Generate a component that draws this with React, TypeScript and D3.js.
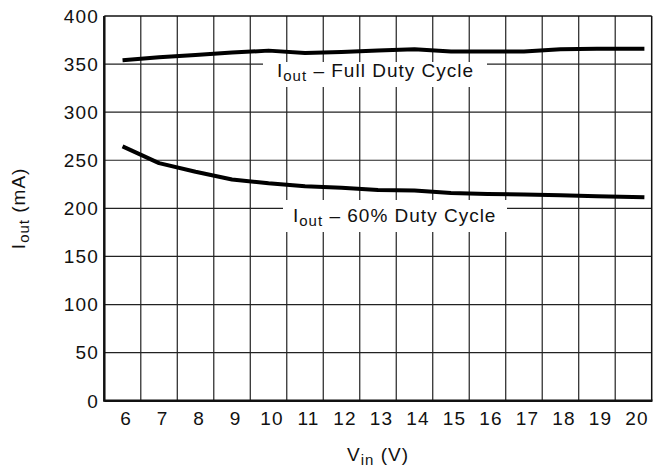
import React from "react";
import * as d3 from "d3";

const vin = [6, 7, 8, 9, 10, 11, 12, 13, 14, 15, 16, 17, 18, 19, 20.3];
const fullDuty = [354, 357, 359.5, 362, 364, 361.5, 362.5, 364, 365.5, 363, 363, 363, 365.5, 366, 366];
const duty60 = [264.5, 247, 238, 230, 226, 223, 221.5, 219, 218.5, 216, 215, 214.5, 213.5, 212.5, 211.5];
const xTicks = [6, 7, 8, 9, 10, 11, 12, 13, 14, 15, 16, 17, 18, 19, 20];
const yTicks = [0, 50, 100, 150, 200, 250, 300, 350, 400];

const W = 661, H = 468;
const M = { left: 104.3, right: 651.7, top: 16, bottom: 400.7 };
const FONT = "'Liberation Sans', Arial, Helvetica, sans-serif";

export default function App() {
  const x = d3.scaleLinear().domain([5.5, 20.5]).range([M.left, M.right]);
  const y = d3.scaleLinear().domain([0, 400]).range([M.bottom, M.top]);
  const line = d3.line<number>().x((_, i) => x(vin[i])).y((d) => y(d)).curve(d3.curveLinear);
  const vGrid = d3.range(6.5, 20.5, 1);

  const label = (
    xc: number, yb: number, rest: string, box: [number, number, number, number]
  ) => (
    <g>
      <rect x={box[0]} y={box[1]} width={box[2]} height={box[3]} fill="#fff" />
      <text x={xc} y={yb} fontSize={19} letterSpacing={1} fontFamily={FONT} fill="#111">
        I<tspan fontSize={15} dy={4}>out</tspan>
        <tspan dy={-4}>{rest}</tspan>
      </text>
    </g>
  );

  return (
    <svg width={W} height={H} style={{ position: "absolute", left: 0, top: 0, background: "#fff" }}>
      {/* grid */}
      {vGrid.map((v) => (
        <line key={"v" + v} x1={x(v)} x2={x(v)} y1={M.top} y2={M.bottom} stroke="#222" strokeWidth={1.2} />
      ))}
      {yTicks.slice(1, -1).map((t) => (
        <line key={"h" + t} x1={M.left} x2={M.right} y1={y(t)} y2={y(t)} stroke="#222" strokeWidth={1.2} />
      ))}
      {/* label boxes */}
      {label(277, 77, " – Full Duty Cycle", [263, 62, 224, 25])}
      {label(293, 222, " – 60% Duty Cycle", [283, 200, 224, 32])}
      {/* frame */}
      <line x1={M.left} x2={M.right} y1={M.top} y2={M.top} stroke="#111" strokeWidth={1.5} />
      <line x1={M.right} x2={M.right} y1={M.top} y2={M.bottom} stroke="#111" strokeWidth={1.5} />
      <line x1={M.left} x2={M.left} y1={M.top} y2={M.bottom + 1} stroke="#111" strokeWidth={2.5} />
      <line x1={M.left} x2={M.right + 0.75} y1={M.bottom} y2={M.bottom} stroke="#111" strokeWidth={2.5} />
      {/* series */}
      <path d={line(fullDuty) || ""} fill="none" stroke="#000" strokeWidth={4} strokeLinejoin="round" />
      <path d={line(duty60) || ""} fill="none" stroke="#000" strokeWidth={4} strokeLinejoin="round" />
      {/* ticks */}
      {yTicks.map((t) => (
        <text key={"yt" + t} x={99} y={y(t) + 6.8} textAnchor="end" fontSize={19} letterSpacing={1.2} fontFamily={FONT} fill="#111">
          {t}
        </text>
      ))}
      {xTicks.map((t) => (
        <text key={"xt" + t} x={x(t) + 3.5} y={425} textAnchor="middle" fontSize={19} letterSpacing={1.2} fontFamily={FONT} fill="#111">
          {t}
        </text>
      ))}
      {/* axis titles */}
      <text x={(M.left + M.right) / 2} y={461} textAnchor="middle" fontSize={19} letterSpacing={1} fontFamily={FONT} fill="#111">
        V<tspan fontSize={15} dy={4}>in</tspan>
        <tspan dy={-4}> (V)</tspan>
      </text>
      <text
        transform={`translate(25,${(M.top + M.bottom) / 2}) rotate(-90)`}
        textAnchor="middle"
        fontSize={19}
        letterSpacing={1}
        fontFamily={FONT}
        fill="#111"
      >
        I<tspan fontSize={15} dy={4}>out</tspan>
        <tspan dy={-4}> (mA)</tspan>
      </text>
    </svg>
  );
}
